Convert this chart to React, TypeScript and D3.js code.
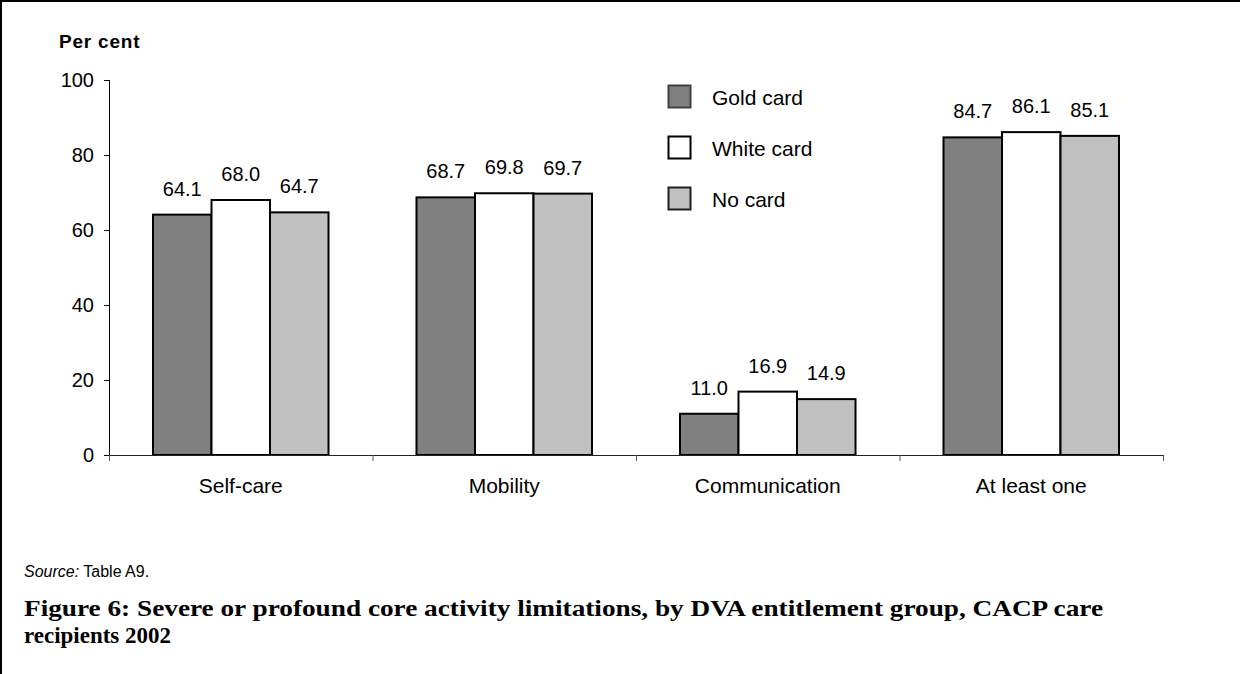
import React from "react";
import * as d3 from "d3";

const categories = ["Self-care", "Mobility", "Communication", "At least one"];
const seriesNames = ["Gold card", "White card", "No card"];
const goldCard = [64.1, 68.7, 11.0, 84.7];
const whiteCard = [68.0, 69.8, 16.9, 86.1];
const noCard = [64.7, 69.7, 14.9, 85.1];
const yTicks = [0, 20, 40, 60, 80, 100];
const seriesColors = ["#808080", "#ffffff", "#c0c0c0"];
const legendStrokes = ["#404040", "#000000", "#202020"];

const W = 1240;
const H = 674;

export default function App() {
  const series = [goldCard, whiteCard, noCard];
  const x0 = d3.scaleBand<string>().domain(categories).range([109, 1163]).paddingInner(0).paddingOuter(0);
  const bw = x0.bandwidth();
  const x1 = d3
    .scaleBand<string>()
    .domain(seriesNames)
    .range([0, bw])
    .paddingInner(0)
    .paddingOuter(0.752);
  const y = d3.scaleLinear().domain([0, 100]).range([455, 80]);
  const sans = "'Liberation Sans', Arial, sans-serif";
  const serif = "'Liberation Serif', 'Times New Roman', serif";

  return (
    <div style={{ position: "absolute", left: 0, top: 0 }}>
      <svg width={W} height={H} style={{ display: "block", background: "#fff" }}>
        {/* frame */}
        <line x1={0} x2={W} y1={1} y2={1} stroke="#000" strokeWidth={2} />
        <line x1={1} x2={1} y1={0} y2={H} stroke="#000" strokeWidth={2} />

        {/* y-axis title */}
        <text x={59} y={48} fontFamily={sans} fontWeight="bold" fontSize={19} letterSpacing={0.8} fill="#000">
          Per cent
        </text>

        {/* y axis */}
        <line x1={109.5} x2={109.5} y1={y(100)} y2={y(0)} stroke="#000" strokeWidth={1} />
        {yTicks.map((t) => (
          <g key={t}>
            <line x1={104} x2={109.5} y1={y(t) + 0.5} y2={y(t) + 0.5} stroke="#000" strokeWidth={1} />
            <text x={94} y={y(t)} dy="0.36em" textAnchor="end" fontFamily={sans} fontSize={20} fill="#000">
              {t}
            </text>
          </g>
        ))}

        {/* bars */}
        {categories.map((c, ci) => (
          <g key={c}>
            {series.map((s, si) => {
              const bx = (x0(c) as number) + (x1(seriesNames[si]) as number);
              const v = s[ci];
              return (
                <g key={si}>
                  <rect
                    x={bx}
                    y={y(v)}
                    width={x1.bandwidth()}
                    height={y(0) - y(v)}
                    fill={seriesColors[si]}
                    stroke="#000"
                    strokeWidth={2}
                  />
                  <text
                    x={bx + x1.bandwidth() / 2}
                    y={y(v) - 19}
                    textAnchor="middle"
                    fontFamily={sans}
                    fontSize={20}
                    fill="#000"
                  >
                    {v.toFixed(1)}
                  </text>
                </g>
              );
            })}
          </g>
        ))}

        {/* x axis */}
        <line x1={109} x2={1163.5} y1={y(0) + 0.5} y2={y(0) + 0.5} stroke="#222" strokeWidth={1} />
        {[...categories.map((c) => x0(c) as number), 1163].map((tx, i) => (
          <line key={i} x1={tx + 0.5} x2={tx + 0.5} y1={y(0)} y2={y(0) + 6} stroke="#555" strokeWidth={1} />
        ))}
        {categories.map((c) => (
          <text
            key={c}
            x={(x0(c) as number) + bw / 2}
            y={493}
            textAnchor="middle"
            fontFamily={sans}
            fontSize={21}
            fill="#000"
          >
            {c}
          </text>
        ))}

        {/* legend */}
        {seriesNames.map((n, i) => (
          <g key={n} transform={`translate(668.5, ${85.5 + i * 51})`}>
            <rect width={22} height={22} fill={seriesColors[i]} stroke={legendStrokes[i]} strokeWidth={2} />
            <text x={43.5} y={19.5} fontFamily={sans} fontSize={21} fill="#000">
              {n}
            </text>
          </g>
        ))}

        {/* source */}
        <text x={24} y={577} fontFamily={sans} fontSize={16} fill="#000">
          <tspan fontStyle="italic">Source:</tspan> Table A9.
        </text>

        {/* title */}
        <text
          x={24}
          y={616}
          fontFamily={serif}
          fontWeight="bold"
          fontSize={24}
          fill="#000"
          textLength={1079}
          lengthAdjust="spacingAndGlyphs"
        >
          Figure 6: Severe or profound core activity limitations, by DVA entitlement group, CACP care
        </text>
        <text
          x={24}
          y={643}
          fontFamily={serif}
          fontWeight="bold"
          fontSize={24}
          fill="#000"
          textLength={147}
          lengthAdjust="spacingAndGlyphs"
        >
          recipients 2002
        </text>
      </svg>
    </div>
  );
}
